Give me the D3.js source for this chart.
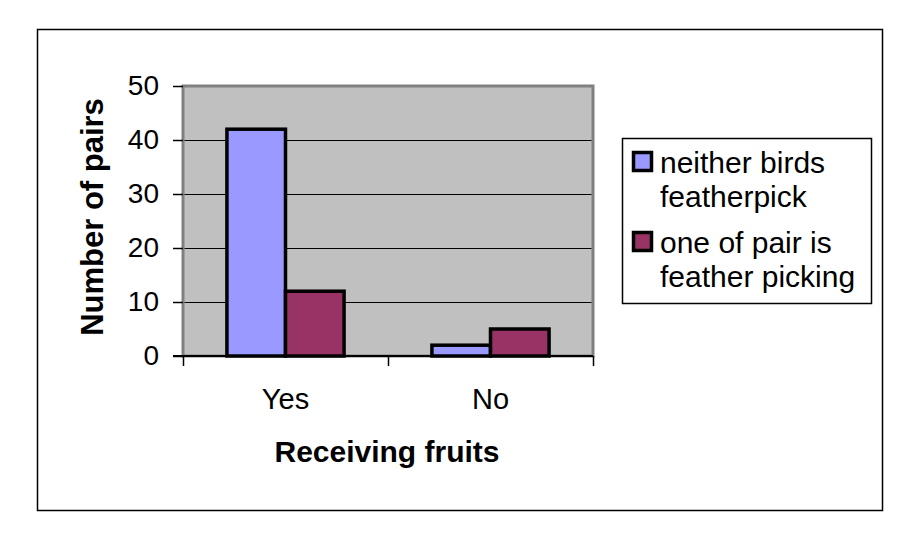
<!DOCTYPE html>
<html>
<head>
<meta charset="utf-8">
<script src="https://cdn.jsdelivr.net/npm/d3@7"></script>
<style>
  body { margin: 0; background: #fff; }
  svg { display: block; font-family: Arial, "Liberation Sans", sans-serif; }
</style>
</head>
<body>
<div id="chart"></div>
<script>
const categories = ['Yes', 'No'];
const seriesNames = ['neither birds featherpick', 'one of pair is feather picking'];
const neitherPick = [42, 2];
const onePicking = [12, 5];
const yTicks = [0, 10, 20, 30, 40, 50];

const legendLines = [
  ['neither birds', 'featherpick'],
  ['one of pair is', 'feather picking']
];
const colors = ['#9999FF', '#993366'];

const width = 905, height = 537;
const plot = { left: 183, top: 86, right: 593, bottom: 356 };

const svg = d3.select('#chart').append('svg')
    .attr('width', width)
    .attr('height', height);

svg.append('rect')
    .attr('width', width).attr('height', height)
    .attr('fill', '#fff');

// Outer chart frame.
svg.append('rect')
    .attr('x', 37.5).attr('y', 29.5)
    .attr('width', 845).attr('height', 481)
    .attr('fill', 'none')
    .attr('stroke', '#000')
    .attr('stroke-width', 1.5);

// Scales.
let y = d3.scaleLinear()
    .domain([0, 50])
    .range([plot.bottom, plot.top]);

let x0 = d3.scaleBand()
    .domain(categories)
    .range([plot.left, plot.right])
    .paddingInner(1.5 / 3.5)
    .paddingOuter(0.75 / 3.5);

let x1 = d3.scaleBand()
    .domain([0, 1])
    .range([0, x0.bandwidth()]);

let xEdges = d3.scaleLinear()
    .domain([0, categories.length])
    .range([plot.left, plot.right]);

// Plot area.
svg.append('rect')
    .attr('x', plot.left).attr('y', plot.top)
    .attr('width', plot.right - plot.left)
    .attr('height', plot.bottom - plot.top)
    .attr('fill', '#C0C0C0')
    .attr('stroke', '#808080')
    .attr('stroke-width', 3);

// Gridlines.
svg.append('g')
    .selectAll('line')
    .data(yTicks.filter((d) => d > 0 && d < 50))
    .enter()
    .append('line')
    .attr('x1', plot.left + 1.5)
    .attr('x2', plot.right - 1.5)
    .attr('y1', (d) => Math.round(y(d)) + 0.5)
    .attr('y2', (d) => Math.round(y(d)) + 0.5)
    .attr('stroke', '#000')
    .attr('stroke-width', 1);

// Bars.
const data = categories.map((c, i) => ({ cat: c, values: [neitherPick[i], onePicking[i]] }));

svg.append('g')
    .selectAll('g')
    .data(data)
    .enter()
    .append('g')
    .attr('transform', (d) => 'translate(' + x0(d.cat) + ',0)')
    .selectAll('rect')
    .data((d) => d.values)
    .enter()
    .append('rect')
    .attr('x', (d, i) => x1(i))
    .attr('y', (d) => y(d))
    .attr('width', x1.bandwidth())
    .attr('height', (d) => y(0) - y(d))
    .attr('fill', (d, i) => colors[i])
    .attr('stroke', '#000')
    .attr('stroke-width', 3.5);

// Y axis.
let yAxis = d3.axisLeft(y)
    .tickValues(yTicks)
    .tickSize(10)
    .tickPadding(14);

let gy = svg.append('g')
    .attr('transform', 'translate(' + plot.left + ',0)')
    .call(yAxis);
gy.select('.domain').remove();
gy.selectAll('.tick line').attr('stroke', '#000').attr('stroke-width', 1.5);
gy.selectAll('.tick text')
    .attr('font-size', 28)
    .attr('font-family', 'Arial, "Liberation Sans", sans-serif')
    .attr('fill', '#000');

// X axis with ticks on the category edges.
let xAxis = d3.axisBottom(xEdges)
    .tickValues(d3.range(categories.length + 1))
    .tickSize(10)
    .tickFormat('');

let gx = svg.append('g')
    .attr('transform', 'translate(0,' + plot.bottom + ')')
    .call(xAxis);
gx.select('.domain').remove();
gx.selectAll('.tick line').attr('stroke', '#000').attr('stroke-width', 1.5);

svg.append('line')
    .attr('x1', plot.left - 10).attr('x2', plot.right)
    .attr('y1', plot.bottom).attr('y2', plot.bottom)
    .attr('stroke', '#000')
    .attr('stroke-width', 2);

// Category labels.
svg.append('g')
    .selectAll('text')
    .data(categories)
    .enter()
    .append('text')
    .attr('x', (d) => x0(d) + x0.bandwidth() / 2)
    .attr('y', 409)
    .attr('text-anchor', 'middle')
    .attr('font-size', 29)
    .text((d) => d);

// Axis titles.
svg.append('text')
    .attr('x', 387)
    .attr('y', 462)
    .attr('text-anchor', 'middle')
    .attr('font-size', 30)
    .attr('font-weight', 'bold')
    .text('Receiving fruits');

svg.append('text')
    .attr('transform', 'translate(103,217) rotate(-90)')
    .attr('text-anchor', 'middle')
    .attr('font-size', 31)
    .attr('font-weight', 'bold')
    .text('Number of pairs');

// Legend.
let legend = svg.append('g');

legend.append('rect')
    .attr('x', 622.5).attr('y', 138.5)
    .attr('width', 249).attr('height', 165)
    .attr('fill', '#fff')
    .attr('stroke', '#000')
    .attr('stroke-width', 1.5);

let items = legend.selectAll('g')
    .data(seriesNames)
    .enter()
    .append('g')
    .attr('transform', (d, i) => 'translate(0,' + (i * 80) + ')');

items.append('rect')
    .attr('x', 633.5).attr('y', 152.5)
    .attr('width', 18).attr('height', 18)
    .attr('fill', (d, i) => colors[i])
    .attr('stroke', '#000')
    .attr('stroke-width', 3.5);

items.append('text')
    .attr('x', 660)
    .attr('y', 173)
    .attr('font-size', 30)
    .selectAll('tspan')
    .data((d, i) => legendLines[i])
    .enter()
    .append('tspan')
    .attr('x', 660)
    .attr('dy', (d, i) => i === 0 ? 0 : 34)
    .text((d) => d);
</script>
</body>
</html>
